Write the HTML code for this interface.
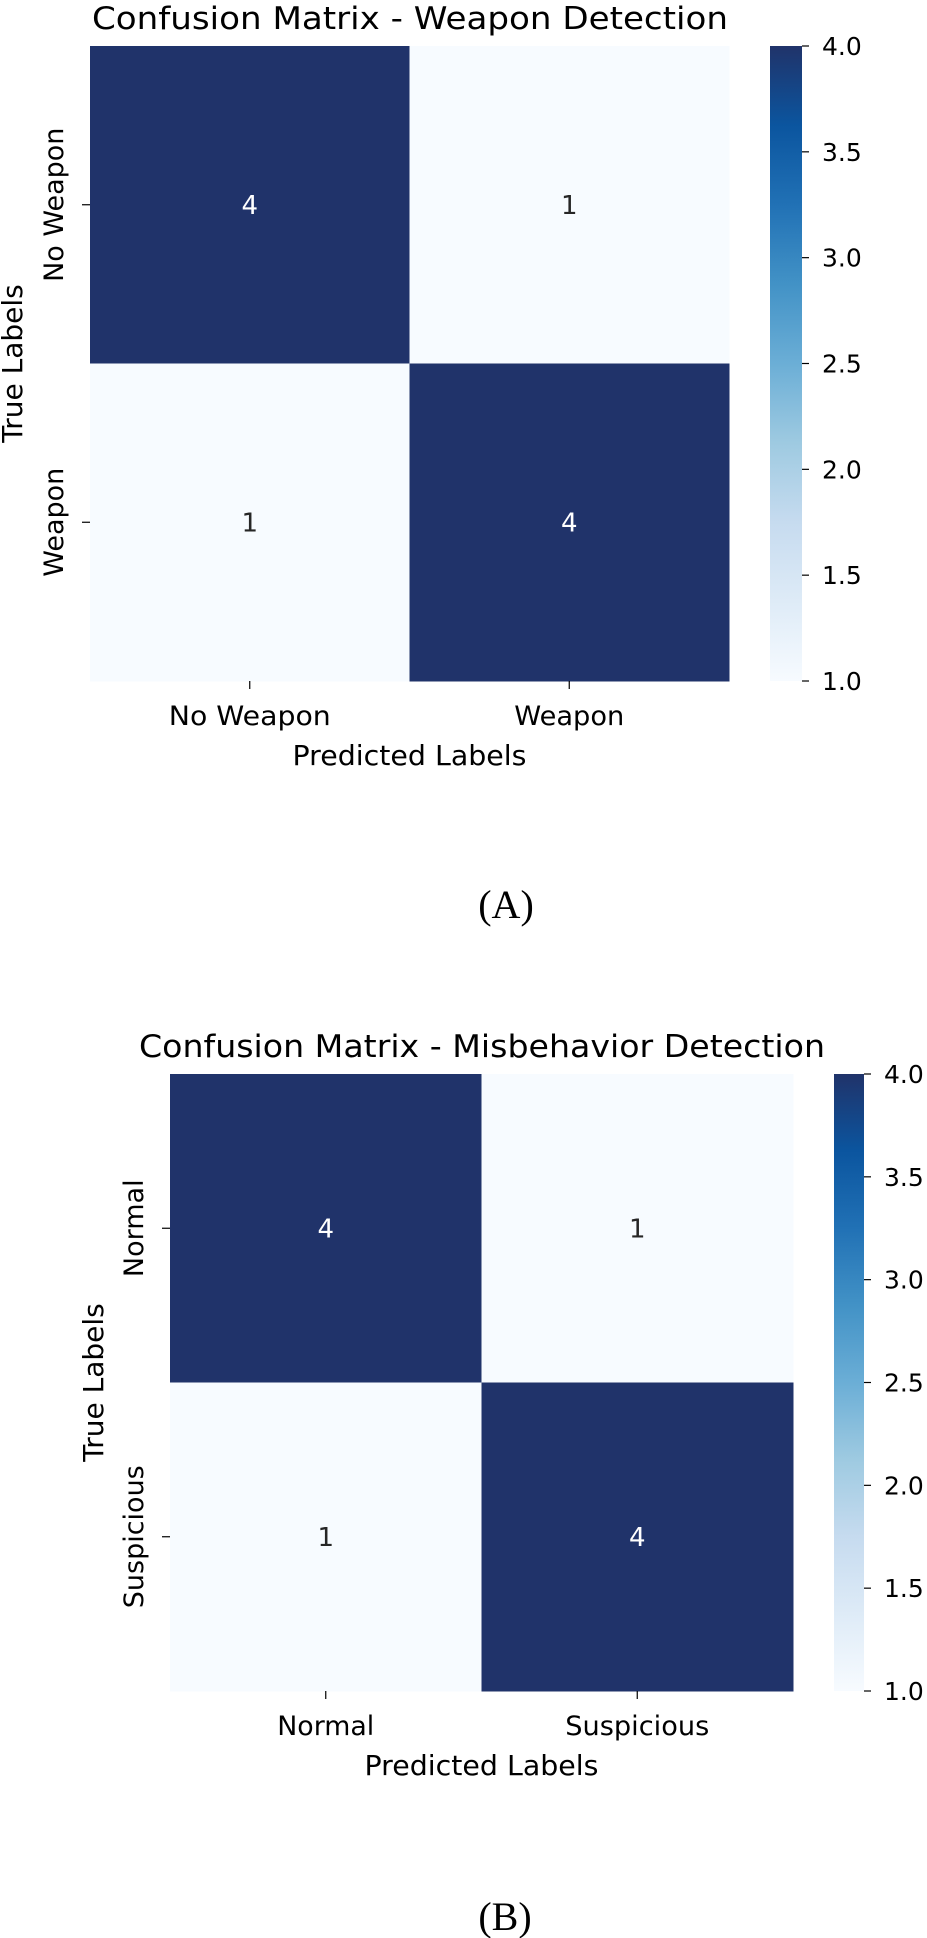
<!DOCTYPE html>
<html><head><meta charset="utf-8"><style>
html,body{margin:0;padding:0;background:#fff;}
svg{display:block;}
text{font-family:"DejaVu Sans","Liberation Sans",sans-serif;}
</style></head>
<body>
<svg id="fig" width="927" height="1938" viewBox="0 0 927 1938" xmlns="http://www.w3.org/2000/svg">
<defs>
<linearGradient id="blues" x1="0" y1="1" x2="0" y2="0">
<stop offset="0" stop-color="#f7fbff"/>
<stop offset="0.125" stop-color="#deebf7"/>
<stop offset="0.25" stop-color="#c6dbef"/>
<stop offset="0.375" stop-color="#9ecae1"/>
<stop offset="0.5" stop-color="#6baed6"/>
<stop offset="0.625" stop-color="#4292c6"/>
<stop offset="0.75" stop-color="#2171b5"/>
<stop offset="0.875" stop-color="#0b559f"/>
<stop offset="1" stop-color="#20336a"/>
</linearGradient>
</defs>
<g id="chartA"></g>
<g id="chartB"></g>
<text x="506" y="918" font-family="Liberation Serif, serif" font-size="40" text-anchor="middle" fill="#000" style="font-family:'Liberation Serif',serif">(A)</text>
<text x="505" y="1930" font-family="Liberation Serif, serif" font-size="40" text-anchor="middle" fill="#000" style="font-family:'Liberation Serif',serif">(B)</text>
</svg>
<script>
const valuesA = [[4, 1], [1, 4]];
const labelsA = ["No Weapon", "Weapon"];
const valuesB = [[4, 1], [1, 4]];
const labelsB = ["Normal", "Suspicious"];
const cbTicks = [1.0, 1.5, 2.0, 2.5, 3.0, 3.5, 4.0];
const cbTickLabels = ["1.0", "1.5", "2.0", "2.5", "3.0", "3.5", "4.0"];
const vmin = 1, vmax = 4;

const NS = "http://www.w3.org/2000/svg";
const stops = [[247,251,255],[222,235,247],[198,219,239],[158,202,225],[107,174,214],[66,146,198],[33,113,181],[11,85,159],[32,51,106]];
function cmap(v){
  let t = (v - vmin) / (vmax - vmin); t = Math.max(0, Math.min(1, t));
  const p = t * (stops.length - 1), i = Math.min(Math.floor(p), stops.length - 2), f = p - i;
  const c = stops[i].map((a, k) => Math.round(a + (stops[i+1][k] - a) * f));
  return "rgb(" + c.join(",") + ")";
}
function mk(parent, tag, attrs, txt){
  const e = document.createElementNS(NS, tag);
  for (const k in attrs) e.setAttribute(k, attrs[k]);
  if (txt !== undefined) e.textContent = txt;
  parent.appendChild(e);
  return e;
}

function drawChart(g, cfg, values, labels){
  const n = labels.length;
  const cw = (cfg.x1 - cfg.x0) / n, ch = (cfg.y1 - cfg.y0) / n;
  const xs = i => cfg.x0 + cw * i;
  const ys = i => cfg.y0 + ch * i;
  let t = mk(g, "text", {x: cfg.titleX, y: cfg.titleY, "font-size": 31, "text-anchor": "middle", fill: "#000", textLength: cfg.titleW, lengthAdjust: "spacingAndGlyphs"}, cfg.title);
  
  
  for (let r = 0; r < n; r++){
    for (let c = 0; c < n; c++){
      const v = values[r][c];
      const rect = mk(g, "rect", {x: xs(c), y: ys(r), width: cw + 0.5, height: ch + 0.5, fill: cmap(v)});
      
      
      const lbl = mk(g, "text", {x: xs(c) + cw/2, y: ys(r) + ch/2 + 9, "font-size": 26, "text-anchor": "middle", fill: v > 2.5 ? "#fff" : "#262626"}, String(v));
      
      
    }
  }
  for (let i = 0; i < n; i++){
    const cx = xs(i) + cw/2, cy = ys(i) + ch/2;
    const tk = mk(g, "line", {x1: cx, y1: cfg.y1, x2: cx, y2: cfg.y1 + 8, stroke: "#000", "stroke-width": 1.2});
    
    
    const xl = mk(g, "text", {x: cx, y: cfg.y1 + 44, "font-size": 27, "text-anchor": "middle", fill: "#000", textLength: cfg.xlabW[i], lengthAdjust: "spacingAndGlyphs"}, labels[i]);
    
    
    const tk2 = mk(g, "line", {x1: cfg.x0 - 8, y1: cy, x2: cfg.x0, y2: cy, stroke: "#000", "stroke-width": 1.2});
    
    
    const yl = mk(g, "text", {x: 0, y: 0, "font-size": 27, "text-anchor": "middle", fill: "#000", transform: "translate(" + cfg.ylabX + "," + cy + ") rotate(-90)"}, labels[i]);
    
    
  }
  const xt = mk(g, "text", {x: (cfg.x0 + cfg.x1)/2, y: cfg.y1 + 84, "font-size": 28, "text-anchor": "middle", fill: "#000", textLength: 234, lengthAdjust: "spacingAndGlyphs"}, "Predicted Labels");
  
  
  const yt = mk(g, "text", {x: 0, y: 0, "font-size": 28, "text-anchor": "middle", fill: "#000", transform: "translate(" + cfg.ytitleX + "," + (cfg.y0 + cfg.y1)/2 + ") rotate(-90)"}, "True Labels");
  
  
  // colorbar
  const cb = mk(g, "rect", {x: cfg.cbX, y: cfg.y0, width: cfg.cbW, height: cfg.y1 - cfg.y0, fill: "url(#blues)"});
  
  
  const cy = v => cfg.y1 - (v - vmin) / (vmax - vmin) * (cfg.y1 - cfg.y0);
  for (let i = 0; i < cbTicks.length; i++){
    const y = cy(cbTicks[i]);
    const l = mk(g, "line", {x1: cfg.cbX + cfg.cbW, y1: y, x2: cfg.cbX + cfg.cbW + 7, y2: y, stroke: "#000", "stroke-width": 1.2});
    
    
    const tl = mk(g, "text", {x: cfg.cbX + cfg.cbW + 20, y: y + 9, "font-size": 25, fill: "#000"}, cbTickLabels[i]);
    
    
  }
}

drawChart(document.getElementById("chartA"),
  {x0: 90, x1: 729, y0: 46, y1: 681, title: "Confusion Matrix - Weapon Detection", titleX: 410, titleY: 29, titleW: 636,
   xlabW: [162, 110], ylabX: 63, ytitleX: 22, cbX: 770, cbW: 32}, valuesA, labelsA);
drawChart(document.getElementById("chartB"),
  {x0: 170, x1: 793, y0: 1074, y1: 1691, title: "Confusion Matrix - Misbehavior Detection", titleX: 482, titleY: 1057, titleW: 686,
   xlabW: [97, 144], ylabX: 143, ytitleX: 103, cbX: 834, cbW: 30}, valuesB, labelsB);
</script>
</body></html>
